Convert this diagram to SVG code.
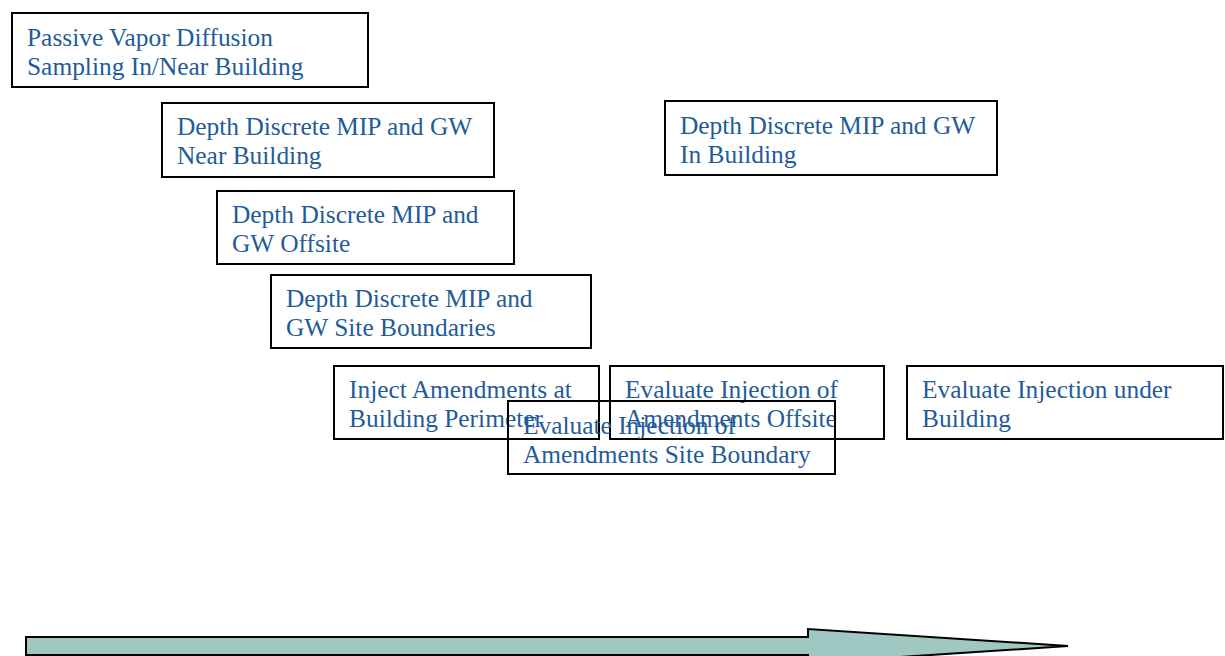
<svg xmlns="http://www.w3.org/2000/svg" width="1225" height="656" viewBox="0 0 1225 656">
<style>
.b{fill:none;stroke:#000;stroke-width:2}
.t{font-family:"Liberation Serif","Times New Roman",serif;font-size:25.4px;fill:#1f5c99}
</style>
<rect width="1225" height="656" fill="#fff"/>
<g id="n1"><rect class="b" x="12" y="13" width="356" height="74"/><text class="t" x="27" y="46">Passive Vapor Diffusion</text><text class="t" x="27" y="75">Sampling In/Near Building</text></g>
<g id="n2"><rect class="b" x="162" y="103" width="332" height="74"/><text class="t" x="177" y="135">Depth Discrete MIP and GW</text><text class="t" x="177" y="164">Near Building</text></g>
<g id="n3"><rect class="b" x="665" y="101" width="332" height="74"/><text class="t" x="680" y="134">Depth Discrete MIP and GW</text><text class="t" x="680" y="163">In Building</text></g>
<g id="n4"><rect class="b" x="217" y="191" width="297" height="73"/><text class="t" x="232" y="223">Depth Discrete MIP and</text><text class="t" x="232" y="252">GW Offsite</text></g>
<g id="n5"><rect class="b" x="271" y="275" width="320" height="73"/><text class="t" x="286" y="307">Depth Discrete MIP and</text><text class="t" x="286" y="336">GW Site Boundaries</text></g>
<g id="n6"><rect class="b" x="334" y="366" width="265" height="73"/><text class="t" x="349" y="398">Inject Amendments at</text><text class="t" x="349" y="427">Building Perimeter</text></g>
<g id="n7"><rect class="b" x="610" y="366" width="274" height="73"/><text class="t" x="625" y="398">Evaluate Injection of</text><text class="t" x="625" y="427">Amendments Offsite</text></g>
<g id="n8"><rect class="b" x="907" y="366" width="316" height="73"/><text class="t" x="922" y="398">Evaluate Injection under</text><text class="t" x="922" y="427">Building</text></g>
<g id="n9"><rect class="b" x="508" y="401" width="327" height="73"/><text class="t" x="523" y="434">Evaluate Injection of</text><text class="t" x="523" y="463">Amendments Site Boundary</text></g>
<g id="connectors"><path d="M26 637 H808 V629 L1068 646 L808 663 V655 H26 Z" fill="#a0c8c2" stroke="#000" stroke-width="2"/></g>
</svg>
